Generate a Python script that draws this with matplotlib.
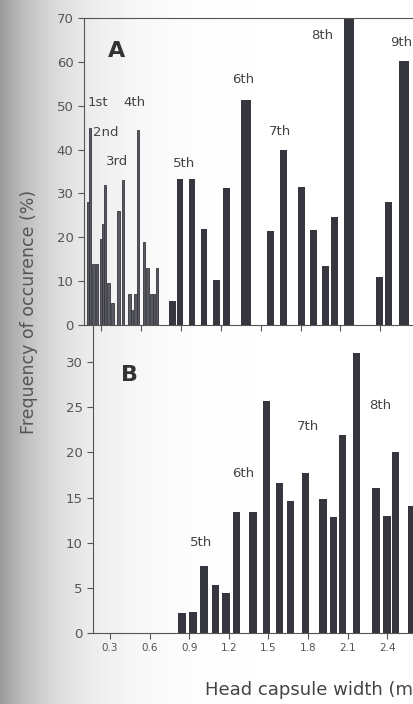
import numpy as np
import matplotlib.pyplot as plt

# Panel A: early instars (thin bars) and later instars
a_thin_x = [0.202, 0.217, 0.240, 0.270, 0.300, 0.315, 0.330, 0.353, 0.383, 0.428,
            0.465, 0.511, 0.533, 0.556, 0.578, 0.623, 0.646, 0.676, 0.698, 0.721]
a_thin_y = [28, 45, 14, 14, 19.5, 23, 32, 9.5, 5, 26,
            33, 7, 3.5, 7, 44.5, 19, 13, 7, 7, 13]
a_x = [0.834, 0.894, 0.984, 1.074, 1.165, 1.24, 1.39, 1.571, 1.672, 1.804,
       1.898, 1.988, 2.056, 2.165, 2.394, 2.458, 2.578]
a_y = [5.5, 33.3, 33.3, 21.9, 10.3, 31.2, 51.3, 21.4, 39.9, 31.5,
       21.7, 13.5, 24.6, 70.5, 11, 28, 60.2]

# Panel B
b_x = [0.845, 0.929, 1.012, 1.099, 1.179, 1.258, 1.383, 1.486, 1.584, 1.667,
       1.781, 1.914, 1.993, 2.061, 2.167, 2.315, 2.398, 2.463, 2.584]
b_y = [2.2, 2.3, 7.4, 5.3, 4.4, 13.4, 13.4, 25.7, 16.6, 14.6,
       17.7, 14.8, 12.8, 21.9, 31.0, 16.1, 13.0, 20.0, 14.1]

x_ticks = [0.3, 0.6, 0.9, 1.2, 1.5, 1.8, 2.1, 2.4]
a_labels = {"1st": (0.28, 50.8), "4th": (0.548, 50.8), "2nd": (0.337, 43.8), "3rd": (0.421, 37.2),
            "5th": (0.924, 36.9), "6th": (1.371, 55.9), "7th": (1.646, 44.2), "8th": (1.965, 66.1),
            "9th": (2.56, 64.5)}
b_labels = {"5th": (0.99, 10.0), "6th": (1.31, 17.7), "7th": (1.797, 22.9), "8th": (2.345, 25.2)}

bar_col = "#36363e"
W, H = 414, 704
fig = plt.figure(figsize=(W / 100, H / 100), dpi=100)

# scan shading on the left edge
bg = fig.add_axes([0, 0, 1, 1], zorder=-10)
xs = np.linspace(0, 1, W)
shade = np.clip(1 - 0.4 * np.exp(-xs * W / 55.0), 0, 1)
bg.imshow(np.tile(shade, (10, 1)), cmap="gray", vmin=0, vmax=1, aspect="auto",
          extent=(0, 1, 0, 1))
bg.axis("off")

axA = fig.add_axes([84 / W, 1 - 325 / H, 1 - 84 / W, (325 - 18) / H])
axB = fig.add_axes([93 / W, 1 - 633 / H, 1 - 93 / W, (633 - 325) / H])

axA.bar(a_thin_x, a_thin_y, width=0.022, color="#5a5a62", edgecolor=bar_col, linewidth=0.6)
a_w = np.where(np.array(a_y) > 45, 0.08, 0.052)
axA.bar(a_x, a_y, width=a_w, color=bar_col)
axA.set_xlim(0.172, 2.653)
axA.set_ylim(0, 70)
axA.set_yticks(range(0, 71, 10))
axA.set_xticks(x_ticks)
axA.set_xticklabels([])
axA.text(0.42, 62.5, "A", fontsize=16, fontweight="bold", color="#333333", ha="center", va="center")
for s, (x, y) in a_labels.items():
    axA.text(x, y, s, fontsize=9.5, color="#444444", ha="center", va="center")

axB.bar(b_x, b_y, width=0.056, color=bar_col)
axB.set_xlim(0.171, 2.603)
axB.set_ylim(0, 34.1)
axB.set_yticks(range(0, 31, 5))
axB.set_xticks(x_ticks)
axB.set_xticklabels([f"{t:.1f}" for t in x_ticks], fontsize=7.5, color="#555555")
axB.text(0.444, 28.6, "B", fontsize=16, fontweight="bold", color="#333333", ha="center", va="center")
for s, (x, y) in b_labels.items():
    axB.text(x, y, s, fontsize=9.5, color="#444444", ha="center", va="center")

for ax in (axA, axB):
    ax.set_facecolor("none")
    ax.spines["right"].set_visible(False)
    ax.tick_params(direction="out", length=4, width=0.8, colors="#555555", labelsize=9.5,
                   labelcolor="#555555")
    for sp in ax.spines.values():
        sp.set_color("#555555")
axB.spines["top"].set_visible(False)
axB.tick_params(axis="x", labelsize=7.5)

fig.text(29 / W, 1 - 312 / H, "Frequency of occurence (%)", rotation=90, fontsize=12.5,
         color="#555555", ha="center", va="center")
fig.text(205 / W, 1 - 690 / H, "Head capsule width (mm)", fontsize=13,
         color="#444444", ha="left", va="center")

fig.savefig("out.png", dpi=100)
